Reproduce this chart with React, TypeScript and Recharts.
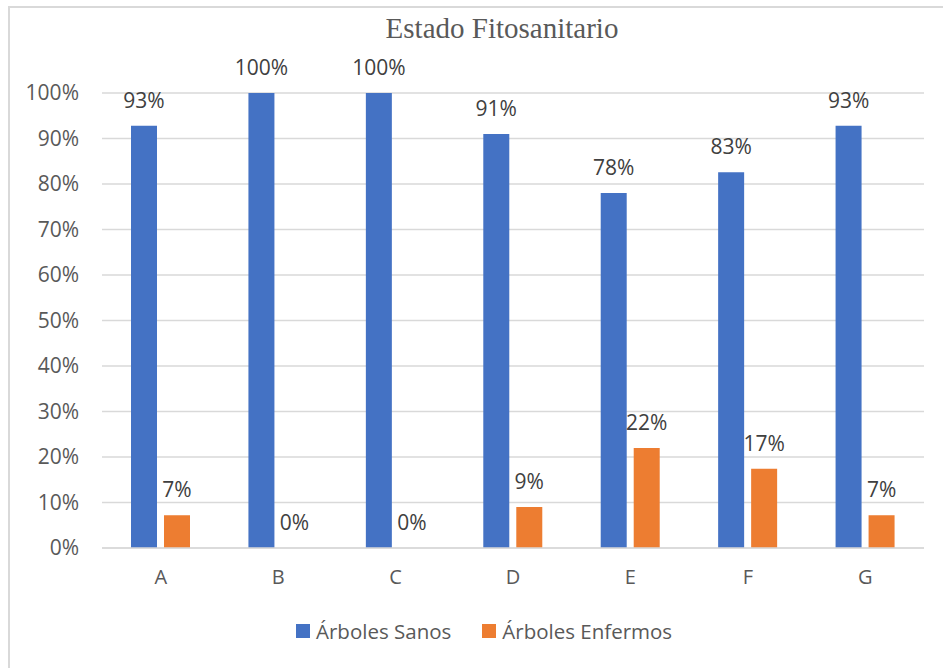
import React from 'react';
import { BarChart, Bar, XAxis, YAxis, CartesianGrid, Legend, LabelList, Cell } from 'recharts';

const categories = ['A', 'B', 'C', 'D', 'E', 'F', 'G'];
const sanos = [92.8, 100, 100, 91, 78, 82.6, 92.8];
const enfermos = [7.2, 0, 0, 9, 22, 17.4, 7.2];
const yTicks = [0, 10, 20, 30, 40, 50, 60, 70, 80, 90, 100];

const data = categories.map((name, i) => ({
  name,
  'Árboles Sanos': sanos[i],
  'Árboles Enfermos': enfermos[i],
}));

const font = '"Open Sans", "Liberation Sans", sans-serif';
const BLUE = '#4472C4';
const ORANGE = '#ED7D31';

// draw value labels by hand so the 0% bars still get one
const TopLabel = (props: any) => {
  const { x, y, width, height, value } = props;
  if (value == null) return null;
  const top = Number(value) === 0 ? Number(y) + Number(height) : Number(y);
  return (
    <text
      x={Number(x) + Number(width) / 2}
      y={top - 18}
      textAnchor="middle"
      fill="#404040"
      fontSize={21}
      fontFamily={font}
    >
      {`${Math.round(Number(value))}%`}
    </text>
  );
};

const LegendBox = () => (
  <div style={{ display: 'flex', alignItems: 'center', height: 30, fontFamily: font, fontSize: 20.5, color: '#595959' }}>
    <span style={{ width: 14, height: 14, background: BLUE, marginRight: 6 }} />
    <span style={{ marginRight: 31 }}>Árboles Sanos</span>
    <span style={{ width: 14, height: 14, background: ORANGE, marginRight: 6 }} />
    <span>Árboles Enfermos</span>
  </div>
);

export default function App() {
  return (
    <div style={{ position: 'absolute', left: 0, top: 0, width: 943, height: 668, background: '#fff', overflow: 'hidden' }}>
      <div style={{ position: 'absolute', left: 8, top: 6, width: 960, height: 700, borderTop: '2px solid #d9d9d9', borderLeft: '2px solid #d9d9d9' }} />
      <div style={{ position: 'absolute', left: 0, width: 1004, top: 12, textAlign: 'center', fontFamily: '"Liberation Serif", serif', fontSize: 29, color: '#595959' }}>
        Estado Fitosanitario
      </div>
      <BarChart
        width={943}
        height={668}
        data={data}
        margin={{ top: 93, right: 19, left: 0, bottom: 22 }}
        barSize={26}
        barGap={7}
        style={{ position: 'absolute', left: 0, top: 0 }}
      >
        <CartesianGrid vertical={false} stroke="#d9d9d9" strokeWidth={1.5} />
        <XAxis
          dataKey="name"
          height={68}
          tickSize={0}
          tickLine={false}
          tickMargin={22}
          axisLine={{ stroke: '#d9d9d9', strokeWidth: 1.5 }}
          tick={{ fill: '#595959', fontSize: 20, fontFamily: font }}
        />
        <YAxis
          width={102}
          domain={[0, 100]}
          ticks={yTicks}
          tickFormatter={(v) => `${v}%`}
          tickSize={0}
          tickLine={false}
          tickMargin={23}
          axisLine={false}
          tick={{ fill: '#595959', fontSize: 21, fontFamily: font }}
        />
        <Legend
          content={<LegendBox />}
          wrapperStyle={{ left: 296, width: 420, height: 30 }}
        />
        <Bar dataKey="Árboles Sanos" fill={BLUE} minPointSize={1} isAnimationActive={false}>
          {sanos.map((v, i) => (
            <Cell key={i} fill={v === 0 ? 'transparent' : BLUE} />
          ))}
          <LabelList dataKey="Árboles Sanos" content={<TopLabel />} />
        </Bar>
        <Bar dataKey="Árboles Enfermos" fill={ORANGE} minPointSize={1} isAnimationActive={false}>
          {enfermos.map((v, i) => (
            <Cell key={i} fill={v === 0 ? 'transparent' : ORANGE} />
          ))}
          <LabelList dataKey="Árboles Enfermos" content={<TopLabel />} />
        </Bar>
      </BarChart>
    </div>
  );
}
